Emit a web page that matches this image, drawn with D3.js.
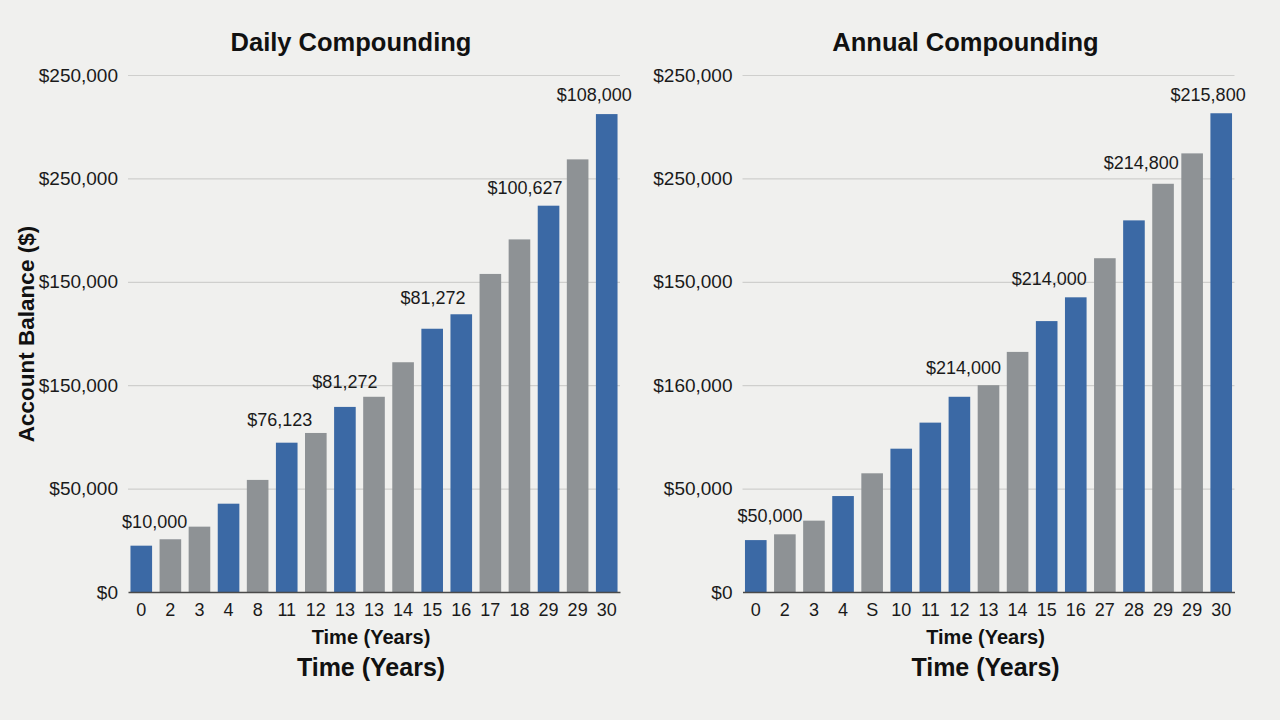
<!DOCTYPE html>
<html>
<head>
<meta charset="utf-8">
<title>Daily vs Annual Compounding</title>
<script src="https://d3js.org/d3.v7.min.js"></script>
<style>
    html, body { margin: 0; padding: 0; background: #f0f0ee; }
    svg { display: block; font-family: "Liberation Sans", Arial, sans-serif; }
    .grid line { stroke: #cfcfcd; stroke-width: 1.2px; }
    .grid .domain { display: none; }
    .ytick text { fill: #1a1a1a; font-size: 19px; }
    .xtick text { fill: #1a1a1a; font-size: 18px; }
    .ytick .domain, .ytick line { display: none; }
    .xtick line { display: none; }
    .xtick .domain { stroke: #4a4a4a; stroke-width: 1.6px; }
</style>
</head>
<body>
<div id="chart"></div>
<script>
// y axis: equally spaced gridlines, labels as printed in the original
var yTickValues = [0, 50000, 100000, 150000, 200000, 250000];

// ---- Daily compounding
var dailyYears = ['0', '2', '3', '4', '8', '11', '12', '13', '13', '14', '15', '16', '17', '18', '29', '29', '30'];
var dailyBalance = [22400, 25500, 31600, 42700, 54200, 72200, 76900, 89500, 94400, 111100,
    127300, 134300, 153800, 170500, 186800, 209200, 231100];
var dailyShade = ['b', 'g', 'g', 'b', 'g', 'b', 'g', 'b', 'g', 'g', 'b', 'b', 'g', 'g', 'b', 'g', 'b'];
var dailyTickLabels = ['$0', '$50,000', '$150,000', '$150,000', '$250,000', '$250,000'];
var dailyLabelText = ['$10,000', '$76,123', '$81,272', '$81,272', '$100,627', '$108,000'];
var dailyLabelAt = [0.46, 4.76, 7.0, 10.03, 13.19, 15.57];     // bar index
var dailyLabelLevel = [31100, 80400, 98500, 139300, 192500, 237400];

// ---- Annual compounding
var annualYears = ['0', '2', '3', '4', 'S', '10', '11', '12', '13', '14', '15', '16', '27', '28', '29', '29', '30'];
var annualBalance = [25100, 27900, 34500, 46400, 57400, 69300, 81900, 94400, 100000, 116100,
    131000, 142500, 161400, 179700, 197400, 212100, 231500];
var annualShade = ['b', 'g', 'g', 'b', 'g', 'b', 'b', 'b', 'g', 'g', 'b', 'b', 'g', 'b', 'g', 'g', 'b'];
var annualTickLabels = ['$0', '$50,000', '$160,000', '$150,000', '$250,000', '$250,000'];
var annualLabelText = ['$50,000', '$214,000', '$214,000', '$214,800', '$215,800'];
var annualLabelAt = [0.49, 7.14, 10.09, 13.25, 15.55];
var annualLabelLevel = [33700, 105400, 148500, 204400, 237400];

var W = 1280, H = 720;
var plotTop = 75, plotBottom = 592;

var svg = d3.select('#chart').append('svg')
    .attr('width', W)
    .attr('height', H);

svg.append('rect')
    .attr('width', W)
    .attr('height', H)
    .attr('fill', '#f0f0ee');

var shadeColor = d3.scaleOrdinal()
    .domain(['b', 'g'])
    .range(['#3b69a5', '#8e9295']);

function drawPanel(p) {
    var n = p.years.length;
    var x = d3.scaleBand()
        .domain(d3.range(n))
        .range([p.left, p.right])
        .paddingInner(0.257)
        .paddingOuter(0.085);
    var y = d3.scaleLinear()
        .domain([0, 250000])
        .range([plotBottom, plotTop]);
    // bar index -> bar centre, used for the value labels
    var xi = d3.scaleLinear()
        .domain([0, n - 1])
        .range([x(0) + x.bandwidth() / 2, x(n - 1) + x.bandwidth() / 2]);

    var g = svg.append('g');

    g.append('g')
        .attr('class', 'grid')
        .attr('transform', 'translate(' + p.left + ',0)')
        .call(d3.axisLeft(y).tickValues(yTickValues.slice(1)).tickSize(-(p.right - p.left)).tickFormat(''));

    g.append('g')
        .attr('class', 'ytick')
        .attr('transform', 'translate(' + p.left + ',0)')
        .call(d3.axisLeft(y).tickValues(yTickValues).tickSize(0).tickPadding(10)
            .tickFormat(function (d, i) { return p.tickLabels[i]; }));

    g.selectAll('rect.bar')
        .data(p.balance)
        .enter().append('rect')
        .attr('class', 'bar')
        .attr('x', function (d, i) { return x(i); })
        .attr('y', function (d) { return y(d); })
        .attr('width', x.bandwidth())
        .attr('height', function (d) { return y(0) - y(d); })
        .attr('fill', function (d, i) { return shadeColor(p.shade[i]); });

    g.append('g')
        .attr('class', 'xtick')
        .attr('transform', 'translate(0,' + plotBottom + ')')
        .call(d3.axisBottom(x).tickSize(0).tickPadding(11).tickSizeOuter(0)
            .tickFormat(function (d) { return p.years[d]; }));

    g.selectAll('text.vlabel')
        .data(p.labelText)
        .enter().append('text')
        .attr('class', 'vlabel')
        .attr('x', function (d, i) { return xi(p.labelAt[i]); })
        .attr('y', function (d, i) { return y(p.labelLevel[i]); })
        .attr('text-anchor', 'middle')
        .attr('fill', '#1a1a1a')
        .style('font-size', '18px')
        .text(function (d) { return d; });

    var mid = (p.left + p.right) / 2;

    g.append('text')
        .attr('x', mid - 23)
        .attr('y', 51)
        .attr('text-anchor', 'middle')
        .style('font-size', '25.5px')
        .style('font-weight', 'bold')
        .attr('fill', '#111')
        .text(p.title);

    g.append('text')
        .attr('x', mid - 3)
        .attr('y', 644)
        .attr('text-anchor', 'middle')
        .style('font-size', '20px')
        .style('font-weight', 'bold')
        .attr('fill', '#111')
        .text('Time (Years)');

    g.append('text')
        .attr('x', mid - 3)
        .attr('y', 676)
        .attr('text-anchor', 'middle')
        .style('font-size', '25px')
        .style('font-weight', 'bold')
        .attr('fill', '#111')
        .text('Time (Years)');
}

drawPanel({
    left: 128, right: 620,
    title: 'Daily Compounding',
    years: dailyYears, balance: dailyBalance, shade: dailyShade,
    tickLabels: dailyTickLabels,
    labelText: dailyLabelText, labelAt: dailyLabelAt, labelLevel: dailyLabelLevel
});

drawPanel({
    left: 742.5, right: 1234.5,
    title: 'Annual Compounding',
    years: annualYears, balance: annualBalance, shade: annualShade,
    tickLabels: annualTickLabels,
    labelText: annualLabelText, labelAt: annualLabelAt, labelLevel: annualLabelLevel
});

svg.append('text')
    .attr('transform', 'translate(34,334) rotate(-90)')
    .attr('text-anchor', 'middle')
    .style('font-size', '22.5px')
    .style('font-weight', 'bold')
    .attr('fill', '#111')
    .text('Account Balance ($)');
</script>
</body>
</html>
